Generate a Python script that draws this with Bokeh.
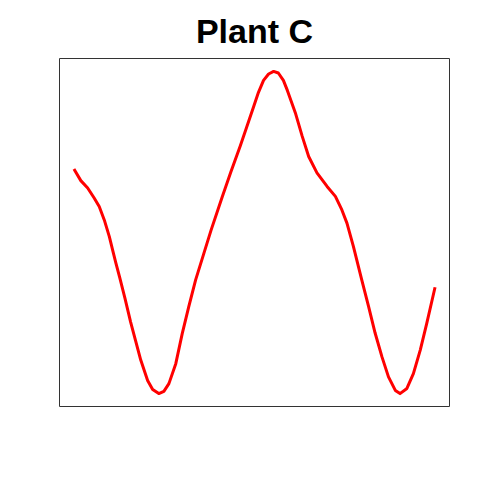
from bokeh.plotting import figure
from bokeh.models import Range1d
from bokeh.embed import file_html
from bokeh.resources import INLINE

title_text = "Plant C"
x_vals = [0.0, 1.9, 3.8, 5.6, 7.0, 8.4, 9.8, 10.7, 11.6, 12.7, 14.1, 15.7, 17.1, 18.5,
          20.4, 21.8, 23.5, 24.9, 26.3, 28.2, 30.0, 31.8, 33.7, 36.0, 38.0, 41.1, 43.4,
          46.1, 47.8, 49.8, 51.1, 52.5, 53.9, 55.3, 56.6, 58.0, 59.1, 61.3, 63.2, 65.0,
          67.3, 70.1, 72.4, 74.2, 75.6, 77.4, 79.7, 81.6, 83.4, 85.3, 87.1, 89.0, 90.3,
          92.2, 94.0, 95.9, 97.7, 100.0]
y_vals = [69.7, 66.1, 63.8, 60.7, 58.1, 53.9, 48.7, 44.6, 40.6, 35.9, 29.7, 22.2, 16.3, 10.4,
          4.1, 1.3, 0.0, 0.7, 3.1, 9.3, 18.7, 27.0, 35.3, 43.6, 50.8, 61.2, 68.6,
          77.0, 82.6, 89.2, 93.5, 97.2, 99.2, 100.0, 99.5, 97.2, 94.1, 87.2, 79.9, 73.6,
          68.5, 64.3, 61.2, 57.0, 52.9, 45.6, 35.3, 27.0, 18.8, 11.4, 5.2, 1.0, 0.0,
          1.6, 6.2, 13.5, 21.8, 33.0]

p = figure(width=464, height=464, output_backend="svg", toolbar_location=None,
           x_range=Range1d(-4, 104), y_range=Range1d(-4, 104),
           min_border_left=59, min_border_right=15, min_border_top=58, min_border_bottom=58,
           title=title_text)
p.title.text_font = "Liberation Sans"
p.title.text_font_size = "34px"
p.title.text_font_style = "bold"
p.title.align = "center"
p.title.text_color = "black"
p.title.standoff = 18
p.xaxis.visible = False
p.yaxis.visible = False
p.grid.visible = False
p.outline_line_color = "#333333"
p.outline_line_width = 1
p.background_fill_color = "white"
p.border_fill_color = "white"

p.line(x_vals, y_vals, line_color="#ff0000", line_width=3, line_join="round")

open("out.html", "w").write(file_html(p, INLINE))
